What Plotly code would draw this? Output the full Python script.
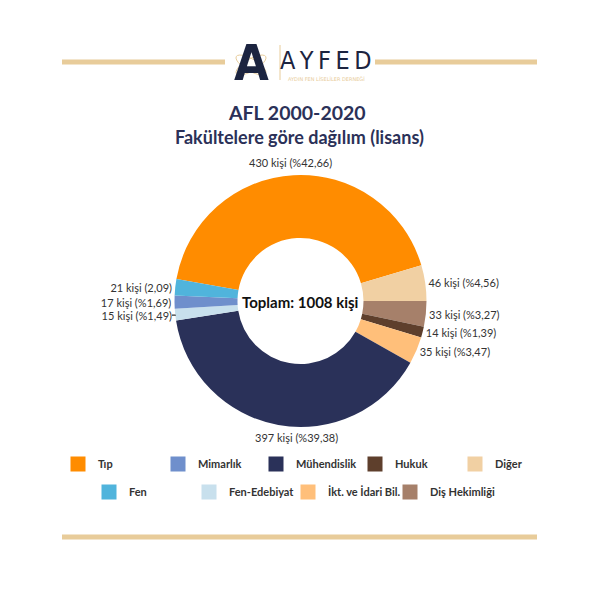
import math
import plotly.graph_objects as go

# Data (legend order)
categories = ["Tıp", "Mimarlık", "Mühendislik", "Hukuk", "Diğer",
              "Fen", "Fen-Edebiyat", "İkt. ve İdari Bil.", "Diş Hekimliği"]
values = [430, 17, 397, 14, 46, 21, 15, 35, 33]
label_texts = ["430 kişi (%42,66)", "17 kişi (%1,69)", "397 kişi (%39,38)",
               "14 kişi (%1,39)", "46 kişi (%4,56)", "21 kişi (2,09)",
               "15 kişi (%1,49)", "35 kişi (%3,47)", "33 kişi (%3,27)"]
colors = ["#ff8c00", "#6f8fcc", "#2a3159", "#5e3f2c", "#f1d0a3",
          "#50b4dc", "#c8e0ed", "#ffbf7a", "#a6806a"]
# drawing order around the ring (clockwise from Tıp)
pie_order = ["Tıp", "Diğer", "Diş Hekimliği", "Hukuk", "İkt. ve İdari Bil.",
             "Mühendislik", "Fen-Edebiyat", "Mimarlık", "Fen"]
total_text = "Toplam: 1008 kişi"
# big slices get centred labels above / below the ring
centred_labels = ["Tıp", "Mühendislik"]

# legend layout (swatch left edge, row centre) in page pixels
legend_pos = [(71, 464), (171, 464), (269, 464), (368, 464), (468, 464),
              (102, 492), (202, 492), (301, 492), (403, 492)]

idx = [categories.index(c) for c in pie_order]

FONT = "Lato"
NAVY = "#2b3158"
LOGO = "#1c2440"
GOLD = "#e8cc9a"
OFF = 8  # page body margin


def px(x):
    return (x - OFF) / 600


def py(y):
    return 1 - (y - OFF) / 600


fig = go.Figure()
fig.add_trace(go.Pie(
    labels=[categories[i] for i in idx],
    values=[values[i] for i in idx],
    text=["" if categories[i] in centred_labels else label_texts[i] for i in idx],
    marker=dict(colors=[colors[i] for i in idx], line=dict(width=0)),
    textinfo="text",
    textposition="outside",
    textfont=dict(family=FONT, size=11, color="#333333"),
    hole=0.5,
    sort=False,
    direction="clockwise",
    rotation=-80,
    showlegend=False,
    hoverinfo="label+value",
    domain=dict(x=[px(174.5), px(426.5)], y=[py(427), py(175)]),
))

legend_names = ["legend"] + [f"legend{k}" for k in range(2, len(categories) + 1)]
for i, c in enumerate(categories):
    fig.add_trace(go.Scatter(
        x=[None], y=[None], mode="markers", name=c,
        marker=dict(symbol="square", size=15, color=colors[i]),
        legend=legend_names[i],
    ))


def ellipse_path(cx, cy, rx, ry, ang_deg, n=24):
    a = math.radians(ang_deg)
    pts = []
    for k in range(n + 1):
        t = 2 * math.pi * k / n
        ex, ey = rx * math.cos(t), ry * math.sin(t)
        X = cx + ex * math.cos(a) - ey * math.sin(a)
        Y = cy + ex * math.sin(a) + ey * math.cos(a)
        pts.append((px(X), py(Y)))
    return "M " + " L ".join(f"{x:.5f},{y:.5f}" for x, y in pts)


shapes = [
    dict(type="line", xref="paper", yref="paper", x0=px(62), x1=px(225),
         y0=py(62), y1=py(62), line=dict(color=GOLD, width=5)),
    dict(type="line", xref="paper", yref="paper", x0=px(375), x1=px(537),
         y0=py(62), y1=py(62), line=dict(color=GOLD, width=5)),
    dict(type="line", xref="paper", yref="paper", x0=px(62), x1=px(537),
         y0=py(537), y1=py(537), line=dict(color=GOLD, width=5)),
    dict(type="line", xref="paper", yref="paper", x0=px(280), x1=px(280),
         y0=py(45), y1=py(80), line=dict(color=GOLD, width=1)),
    dict(type="path", xref="paper", yref="paper", path=ellipse_path(251, 65, 17, 6, 30),
         line=dict(color=GOLD, width=1)),
    dict(type="path", xref="paper", yref="paper", path=ellipse_path(251, 65, 17, 6, -30),
         line=dict(color=GOLD, width=1)),
]


def ann(text, x, y, size, color, family=FONT, weight="normal"):
    return dict(text=text, x=px(x), y=py(y), xref="paper", yref="paper",
                xanchor="center", yanchor="middle", showarrow=False,
                font=dict(family=family, size=size, color=color, weight=weight))


annotations = [
    ann("A", 251, 63, 50, LOGO, "DejaVu Sans Condensed", "bold"),
    ann("A\u2009Y\u2009F\u2009E\u2009D", 326, 60, 25, LOGO, "DejaVu Sans Condensed"),
    ann("AYDIN FEN LİSELİLER DERNEĞİ", 326, 79, 5, GOLD, "DejaVu Sans"),
    ann("AFL 2000-2020", 297, 112, 19.5, NAVY, weight="bold"),
    ann("Fakültelere göre dağılım (lisans)", 299, 137, 18, NAVY, weight="bold"),
    ann(total_text, 300, 302, 15, "#111111", weight="bold"),
    ann(label_texts[categories.index("Tıp")], 290, 163, 11, "#333333"),
    ann(label_texts[categories.index("Mühendislik")], 296, 437, 11, "#333333"),
]

layout_legends = {}
for name, (lx, ly) in zip(legend_names, legend_pos):
    layout_legends[name] = dict(
        orientation="h", x=px(lx - 13), y=py(ly), xanchor="left", yanchor="middle",
        bgcolor="rgba(0,0,0,0)",
        font=dict(family=FONT, size=11, color="#333333", weight="bold"),
        itemclick=False, itemdoubleclick=False)

fig.update_layout(
    width=600, height=600,
    margin=dict(l=0, r=0, t=0, b=0),
    paper_bgcolor="white", plot_bgcolor="white",
    xaxis=dict(visible=False), yaxis=dict(visible=False),
    shapes=shapes, annotations=annotations,
    **layout_legends,
)

fig.write_html("out.html")
